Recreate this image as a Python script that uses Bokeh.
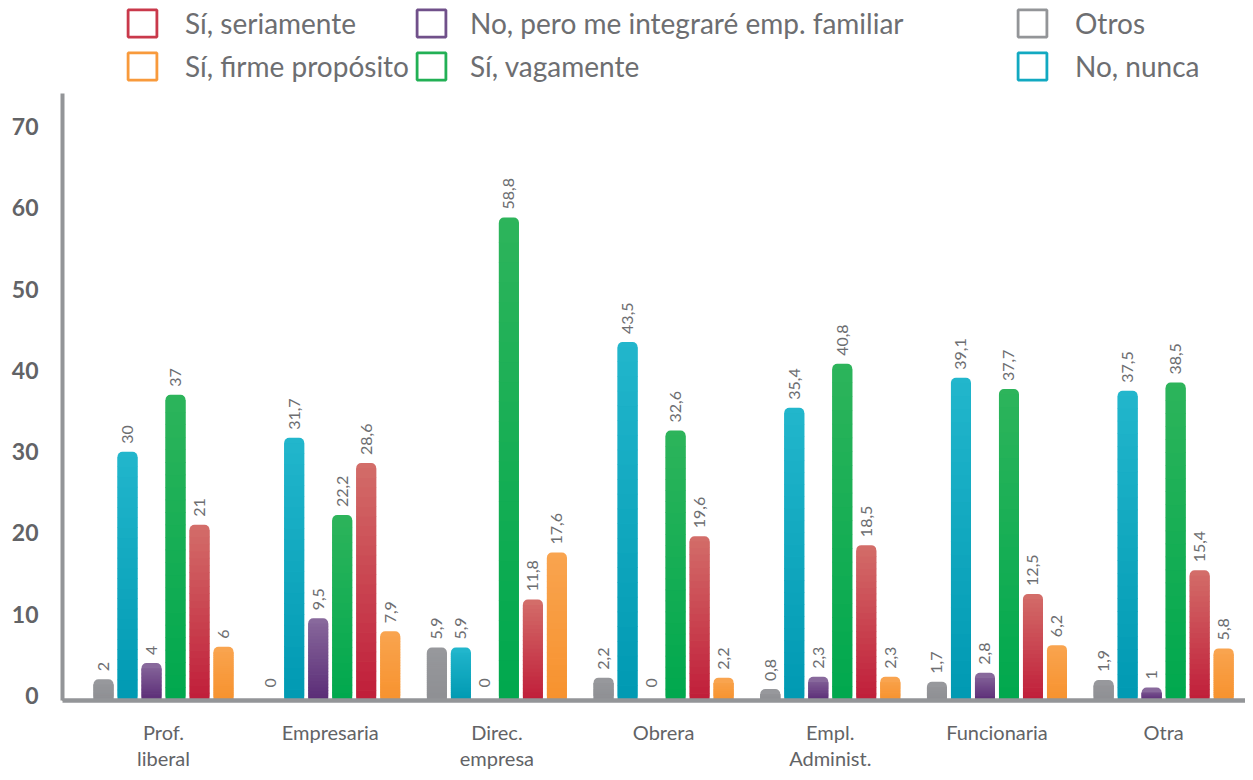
import math
from bokeh.plotting import figure
from bokeh.models import ColumnDataSource, Range1d, FixedTicker, Legend, LegendItem
from bokeh.core.properties import value
from bokeh.embed import file_html
from bokeh.resources import INLINE

# ---------------- data ----------------
categories = ["Prof.\nliberal", "Empresaria", "Direc.\nempresa", "Obrera",
              "Empl.\nAdminist.", "Funcionaria", "Otra"]
series_names = ["Otros", "No, nunca", "No, pero me integraré emp. familiar",
                "Sí, vagamente", "Sí, seriamente", "Sí, firme propósito"]
otros = [2, 0, 5.9, 2.2, 0.8, 1.7, 1.9]
no_nunca = [30, 31.7, 5.9, 43.5, 35.4, 39.1, 37.5]
no_pero = [4, 9.5, 0, 0, 2.3, 2.8, 1]
si_vagamente = [37, 22.2, 58.8, 32.6, 40.8, 37.7, 38.5]
si_seriamente = [21, 28.6, 11.8, 19.6, 18.5, 12.5, 15.4]
si_firme = [6, 7.9, 17.6, 2.2, 2.3, 6.2, 5.8]
y_ticks = [0, 10, 20, 30, 40, 50, 60, 70]
y_axis_top = 74.1

series_values = [otros, no_nunca, no_pero, si_vagamente, si_seriamente, si_firme]
# (top colour, bottom colour)
series_colors = [("#97989c", "#8e8f93"), ("#22b6cc", "#0099b2"), ("#88699c", "#5a2b76"),
                 ("#2db45b", "#00a84e"), ("#d36d69", "#c01d39"), ("#f9a44f", "#f7922e")]
legend_colors = ["#939598", "#12a9c1", "#70508a", "#22b055", "#c9394b", "#f89a3c"]

FONT = "Lato"
TEXT_GRAY = "#6d6e71"
AXIS_GRAY = "#939598"

Y0 = -0.61
Y1 = 85.5
X0, X1 = -0.606, 6.491
BAR_W = 0.12
PITCH = 0.144


def hex2rgb(h):
    h = h.lstrip("#")
    return tuple(int(h[i:i + 2], 16) for i in (0, 2, 4))


def mix(c_top, c_bot, t):
    a, b = hex2rgb(c_top), hex2rgb(c_bot)
    return "#%02x%02x%02x" % tuple(int(round(b[k] + (a[k] - b[k]) * t)) for k in range(3))


def fmt(v):
    return ("%g" % v).replace(".", ",")


p = figure(width=1245, height=772,
           x_range=Range1d(X0, X1), y_range=Range1d(Y0, Y1),
           output_backend="svg", toolbar_location=None,
           min_border_left=62, min_border_right=0, min_border_top=0, min_border_bottom=40)
p.outline_line_color = None
p.xgrid.grid_line_color = None
p.ygrid.grid_line_color = None
p.background_fill_color = "white"

# --- bars with vertical gradient ---
base = dict(x=[], top=[], color=[])
slices = dict(x=[], bottom=[], top=[], color=[])
labels = dict(x=[], y=[], text=[])
N = 24
CAP = 0.65
for j, vals in enumerate(series_values):
    off = (j - 2.5) * PITCH
    ctop, cbot = series_colors[j]
    for i, v in enumerate(vals):
        xc = i + off
        labels["x"].append(xc)
        labels["y"].append(v)
        labels["text"].append(fmt(v))
        if v <= 0:
            continue
        base["x"].append(xc)
        base["top"].append(v)
        base["color"].append(ctop)
        h = v - Y0
        lo_top = v - CAP
        for k in range(N):
            b = Y0 + (lo_top - Y0) * k / N
            t = Y0 + (lo_top - Y0) * (k + 1) / N
            tm = ((b + t) / 2 - Y0) / h
            slices["x"].append(xc)
            slices["bottom"].append(b)
            slices["top"].append(min(t + 0.08, lo_top) if k < N - 1 else t)
            slices["color"].append(mix(ctop, cbot, tm))

p.vbar(x="x", bottom=Y0, top="top", width=BAR_W, fill_color="color", line_color=None,
       border_radius=5, source=ColumnDataSource(base))
p.vbar(x="x", bottom="bottom", top="top", width=BAR_W, fill_color="color", line_color=None,
       source=ColumnDataSource(slices))

p.text(x="x", y="y", text="text", source=ColumnDataSource(labels), angle=math.pi / 2,
       text_align="left", text_baseline="middle", y_offset=-8,
       text_font=value(FONT), text_font_size="16px", text_color=TEXT_GRAY)

# --- axes ---
p.yaxis.ticker = FixedTicker(ticks=y_ticks)
p.yaxis.bounds = (Y0, y_axis_top)
p.yaxis.axis_line_color = AXIS_GRAY
p.yaxis.axis_line_width = 4
p.yaxis.major_tick_line_color = None
p.yaxis.minor_tick_line_color = None
p.yaxis.major_label_text_font = FONT
p.yaxis.major_label_text_font_style = "bold"
p.yaxis.major_label_text_font_size = "23px"
p.yaxis.major_label_text_color = "#626366"
p.yaxis.major_label_standoff = 18

p.xaxis.ticker = FixedTicker(ticks=list(range(len(categories))))
p.xaxis.major_label_overrides = {i: c for i, c in enumerate(categories)}
p.xaxis.axis_line_color = AXIS_GRAY
p.xaxis.axis_line_width = 4.5
p.xaxis.major_tick_line_color = None
p.xaxis.minor_tick_line_color = None
p.xaxis.major_label_text_font = FONT
p.xaxis.major_label_text_font_size = "20px"
p.xaxis.major_label_text_line_height = 1.1
p.xaxis.major_label_text_color = "#626366"
p.xaxis.major_label_standoff = 13

# --- legend (proxy renderers, a single point left of the visible x range) ---
proxies = {}
for name, col in zip(series_names, legend_colors):
    src = ColumnDataSource(dict(x=[X0 - 1.0], top=[Y0], bottom=[Y0]))
    proxies[name] = p.vbar(x="x", top="top", bottom="bottom", width=0.01,
                           fill_color="white", line_color=col, line_width=2.8, source=src)

legend_cols = [["Sí, seriamente", "Sí, firme propósito"],
               ["No, pero me integraré emp. familiar", "Sí, vagamente"],
               ["Otros", "No, nunca"]]
legend_x = [62, 351, 952]
legend_standoff = [25, 21, 25]
for names, lx, ls in zip(legend_cols, legend_x, legend_standoff):
    lg = Legend(items=[LegendItem(label=n, renderers=[proxies[n]]) for n in names],
                location=(lx, 617), orientation="vertical",
                glyph_width=36, glyph_height=34, spacing=9, label_standoff=ls,
                padding=0, margin=0, border_line_color=None, background_fill_alpha=0,
                label_text_font=FONT, label_text_font_size="28px",
                label_text_color=TEXT_GRAY)
    p.add_layout(lg, "center")

open("out.html", "w").write(file_html(p, INLINE))
